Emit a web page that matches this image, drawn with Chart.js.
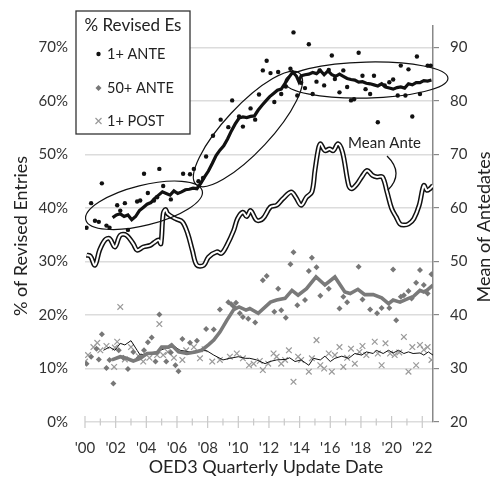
<!DOCTYPE html>
<html><head><meta charset="utf-8">
<script src="https://cdn.jsdelivr.net/npm/chart.js@4.4.1/dist/chart.umd.min.js"></script>
<style>html,body{margin:0;padding:0;background:#fff}#wrap{position:relative;width:491px;height:487px}</style>
</head><body><div id="wrap"><canvas id="c"></canvas></div>
<script>
// ---------- DATA ----------
const leftTicks = [0,10,20,30,40,50,60,70];
const rightTicks = [20,30,40,50,60,70,80,90];
const yearTicks = [2000,2002,2004,2006,2008,2010,2012,2014,2016,2018,2020,2022];
const yearLabels = ["'00","'02","'04","'06","'08","'10","'12","'14","'16","'18","'20","'22"];

const seriesNames = ['1+ ANTE','50+ ANTE','1+ POST'];

// 1+ ANTE (% of revised entries)
const ante1X = [2000.1,2000.4,2000.65,2000.9,2001.1,2001.4,2001.6,2002.1,2002.3,2002.6,2002.8,2003.4,2003.6,2003.85,2004.1,2004.5,2004.7,2004.85,2005.1,2005.6,2006.4,2006.85,2007.1,2007.4,2007.7,2007.9,2008.35,2008.85,2009.35,2009.6,2010.05,2010.3,2010.8,2011.1,2011.35,2011.6,2011.85,2012.1,2012.35,2012.6,2012.8,2013.1,2013.4,2013.6,2013.85,2014.1,2014.35,2014.6,2014.85,2015.1,2015.3,2015.6,2015.9,2016.1,2016.3,2016.6,2016.85,2017.1,2017.35,2017.55,2017.85,2018.1,2018.3,2018.6,2018.85,2019.1,2019.55,2019.85,2020.1,2020.4,2020.6,2020.9,2021.1,2021.35,2021.65,2021.85,2022.35,2022.55];
const ante1Y = [36.3,40.9,37.6,37.4,44.6,36.7,36.3,40.5,39.5,40.9,35.9,41.2,41.4,46.4,42.8,41.4,42.0,47.3,44.1,41.6,46.4,46.3,47.3,45.0,45.6,49.6,53.5,56.5,55.1,60.1,57.1,55.2,58.6,56.5,61.2,65.7,67.5,65.2,59.8,65.4,61.3,62.7,66.0,72.8,61.0,63.4,62.4,70.6,61.3,63.6,65.7,62.9,65.8,68.5,64.1,61.6,65.7,62.6,60.1,60.3,69.0,64.7,62.2,61.3,64.7,56.0,62.9,63.5,64.0,61.0,66.6,61.0,65.9,57.1,68.3,61.3,66.6,66.6];

// 1+ ANTE moving average
const ante1MaX = [2001.8,2002.05,2002.3,2002.55,2002.8,2003.05,2003.3,2003.55,2003.8,2004.05,2004.3,2004.55,2004.8,2005.05,2005.3,2005.55,2005.8,2006.05,2006.3,2006.55,2006.8,2007.05,2007.3,2007.55,2007.8,2008.05,2008.3,2008.55,2008.8,2009.05,2009.3,2009.55,2009.8,2010.05,2010.3,2010.55,2010.8,2011.05,2011.3,2011.55,2011.8,2012.05,2012.3,2012.55,2012.8,2013.05,2013.3,2013.55,2013.8,2013.95,2014.1,2014.35,2014.6,2014.85,2015.1,2015.35,2015.6,2015.85,2016.1,2016.35,2016.6,2016.85,2017.1,2017.35,2017.6,2017.85,2018.1,2018.35,2018.6,2018.85,2019.1,2019.35,2019.6,2019.85,2020.1,2020.35,2020.6,2020.85,2021.1,2021.35,2021.6,2021.85,2022.1,2022.35,2022.6];
const ante1MaY = [38.2,38.7,38.9,38.4,38.7,37.8,38.4,39.5,40.1,40.7,41.0,41.8,42.4,43.0,42.7,42.4,43.2,42.7,43.0,43.4,43.5,43.7,43.6,44.6,45.8,46.9,48.3,49.8,50.8,51.6,52.9,54.4,55.7,56.8,57.0,56.9,57.1,57.2,58.3,59.2,60.0,60.8,61.4,62.0,62.2,63.3,64.4,65.4,64.6,63.6,64.7,64.9,65.0,65.3,65.1,65.7,64.9,65.6,64.9,64.6,65.0,64.6,64.2,64.0,63.9,63.5,63.6,63.3,63.2,63.0,62.8,63.2,62.6,62.4,62.2,62.5,62.6,62.4,63.2,63.0,63.4,63.4,63.8,63.7,63.9];

// 50+ ANTE
const ante50X = [2000.1,2000.4,2000.75,2000.9,2001.1,2001.4,2001.6,2001.85,2002.2,2002.5,2002.8,2003.15,2003.5,2003.85,2004.1,2004.35,2004.6,2004.85,2005.3,2005.6,2005.9,2006.1,2006.35,2006.85,2007.3,2007.9,2008.4,2008.8,2009.35,2009.55,2009.7,2009.85,2010.1,2010.3,2010.65,2011.1,2011.6,2011.85,2012.35,2012.6,2012.8,2013.1,2013.4,2013.6,2013.85,2014.35,2014.6,2014.8,2015.1,2015.35,2015.9,2016.6,2016.85,2017.1,2017.85,2018.1,2018.6,2019.05,2019.35,2019.85,2020.1,2020.3,2020.6,2020.8,2021.1,2021.3,2021.6,2021.85,2022.1,2022.35,2022.6];
const ante50Y = [10.9,12.2,13.7,11.7,16.4,10.1,11.6,7.2,13.4,12.0,9.9,13.1,12.0,13.4,14.9,15.8,11.3,20.1,11.3,13.0,10.6,9.5,15.5,14.8,15.2,17.4,17.3,21.0,22.4,22.0,21.6,22.3,20.3,19.6,19.3,18.6,26.5,27.3,20.6,24.9,20.9,19.5,29.5,31.7,21.8,22.8,28.2,30.7,28.9,23.6,24.9,21.2,23.4,22.4,29.0,22.9,21.0,20.3,21.3,21.3,28.5,19.0,23.4,23.7,24.5,23.1,26.0,28.4,25.6,24.0,27.6];

// 50+ ANTE moving average
const ante50MaX = [2001.75,2002.3,2002.7,2003.15,2003.6,2004.05,2004.7,2005.0,2005.45,2005.65,2006.1,2006.65,2007.2,2007.6,2008.05,2008.4,2008.8,2009.25,2009.7,2010.05,2010.5,2010.75,2011.3,2012.1,2012.5,2013.05,2013.5,2013.9,2014.45,2015.07,2015.65,2016.3,2016.95,2017.3,2017.8,2018.25,2018.8,2019.35,2019.8,2020.1,2020.55,2021.1,2021.4,2021.85,2022.1,2022.3,2022.7];
const ante50MaY = [11.6,12.2,11.9,11.4,11.9,12.8,12.9,14.0,14.0,14.4,13.1,12.8,13.1,13.4,14.4,15.3,16.8,19.0,21.0,21.5,20.9,21.2,20.3,22.4,22.8,23.1,24.6,23.7,24.9,27.1,25.6,27.1,24.3,24.0,24.8,23.8,23.8,23.2,22.1,22.8,22.4,23.1,23.4,24.6,24.3,24.6,25.6];

// 1+ POST
const post1X = [2000.0,2000.2,2000.55,2000.8,2001.0,2001.4,2001.9,2001.95,2002.1,2002.3,2002.6,2003.0,2003.5,2003.8,2004.2,2004.7,2004.85,2005.1,2005.4,2005.8,2006.35,2006.6,2007.1,2007.5,2007.8,2008.3,2008.8,2009.45,2009.9,2010.3,2010.7,2011.0,2011.4,2011.6,2011.95,2012.3,2012.5,2012.8,2013.05,2013.3,2013.6,2013.9,2014.1,2014.6,2014.8,2015.1,2015.35,2015.6,2015.9,2016.1,2016.3,2016.6,2016.85,2017.1,2017.35,2017.6,2017.9,2018.1,2018.35,2018.9,2019.1,2019.35,2019.6,2019.9,2020.2,2020.5,2020.8,2021.1,2021.35,2021.6,2021.85,2022.1,2022.35,2022.6];
const post1Y = [11.3,12.5,14.0,14.8,13.4,14.2,10.3,13.9,15.0,21.5,11.7,14.0,12.3,11.3,12.0,12.5,18.3,12.5,13.1,12.0,11.6,13.4,14.0,11.9,13.6,11.3,11.6,12.2,12.8,11.9,10.6,10.9,11.4,9.7,10.9,12.8,12.2,10.9,11.6,13.4,7.5,12.2,11.6,9.4,11.9,15.3,10.6,10.0,12.8,9.4,12.5,14.0,10.3,12.0,13.7,10.9,13.1,14.2,12.5,15.0,12.8,10.6,14.7,12.8,12.5,13.0,15.9,9.4,14.0,10.6,14.4,13.5,14.0,11.6];

// 1+ POST moving average
const post1MaX = [2001.2,2001.6,2001.95,2002.3,2002.6,2003.0,2003.4,2003.6,2004.0,2004.6,2005.1,2005.5,2005.7,2006.2,2006.85,2007.5,2007.95,2008.4,2009.0,2009.45,2010.0,2010.45,2010.75,2011.2,2011.75,2012.05,2012.5,2013.1,2013.35,2013.7,2014.1,2014.6,2014.9,2015.35,2015.65,2016.0,2016.3,2016.75,2017.2,2017.6,2018.05,2018.35,2018.8,2019.0,2019.45,2019.8,2020.1,2020.45,2020.8,2021.1,2021.4,2021.85,2022.1,2022.4,2022.7];
const post1MaY = [13.4,14.0,13.4,14.7,14.4,15.2,13.4,12.5,12.8,13.1,13.6,14.0,14.4,13.4,13.1,13.4,13.3,12.5,11.6,11.9,12.2,11.9,11.9,11.6,10.9,11.3,11.6,11.7,12.0,11.3,11.6,10.6,11.9,11.6,12.3,11.3,11.9,12.3,11.9,12.8,12.5,13.1,12.8,13.4,12.8,13.4,12.9,13.4,12.8,13.1,12.8,12.9,12.5,13.1,12.5];

// Mean of antedates (right axis)
const meanAnteX = [2000.1,2000.35,2000.65,2000.95,2001.3,2001.6,2001.95,2002.3,2002.7,2003.15,2003.4,2003.8,2004.25,2004.5,2004.8,2004.95,2005.1,2005.25,2005.4,2005.9,2006.35,2006.7,2007.0,2007.3,2007.75,2008.05,2008.6,2008.9,2009.25,2009.7,2009.95,2010.3,2010.55,2010.8,2011.2,2011.6,2012.1,2012.5,2012.9,2013.45,2013.75,2014.1,2014.45,2014.8,2015.0,2015.2,2015.35,2015.65,2015.95,2016.2,2016.5,2016.8,2017.2,2017.4,2017.75,2018.05,2018.4,2018.75,2019.05,2019.4,2019.7,2020.0,2020.3,2020.55,2020.8,2021.1,2021.45,2021.8,2022.1,2022.3,2022.5,2022.7];
const meanAnteY = [51.2,51.0,49.3,52.1,54.0,54.3,52.7,54.9,54.9,53.3,52.1,52.7,53.0,53.5,54.0,53.3,58.9,59.7,58.9,58.0,57.4,55.2,52.1,49.3,49.3,50.8,51.8,51.5,53.0,55.8,58.0,59.2,58.4,59.5,57.7,58.0,60.2,60.5,61.7,63.0,62.0,60.5,62.0,63.0,67.0,70.7,72.0,70.7,71.0,70.7,72.0,70.4,64.2,63.6,64.5,65.8,67.0,66.1,65.8,65.8,63.0,59.9,58.3,57.0,56.8,57.0,58.0,60.5,64.2,63.3,63.6,64.2];

// ---------- ANNOTATIONS (data coords for anchors) ----------
const ellipses = [
  {x:2003.85, y:40.5, rx:60, ry:20, rot:-14},
  {x:2010.63, y:54.76, rx:76, ry:23, rot:-47},
  {x:2018.36, y:63.9, rx:81.5, ry:18, rot:-1.3}
];
const meanLabel = {x:2017.16, y:52.05, text:'Mean Ante'};
const meanArc = {x1:2019.7, y1:49.7, cx:2020.85, cy:46.5, x2:2019.75, y2:43.3};

// ---------- RENDER ----------
const FONT = 'Lato, "Open Sans", sans-serif';
const zip = (xs, ys) => xs.map((x,i) => ({x, y: ys[i]}));

const decor = {
  id: 'decor',
  beforeDatasetsDraw(chart){
    const {ctx, scales:{x, y}} = chart;
    const py = y.getPixelForValue(0);
    ctx.save();
    ctx.strokeStyle = '#c9c9c9'; ctx.lineWidth = 1.2;
    x.ticks.forEach(t => {
      const px = x.getPixelForValue(t.value);
      const h = yearTicks.includes(t.value) ? 6 : 3.5;
      ctx.beginPath(); ctx.moveTo(px, py - h); ctx.lineTo(px, py + h); ctx.stroke();
    });
    ctx.restore();
  },
  afterDraw(chart){
    const {ctx, scales:{x, y}} = chart;
    const P = (a, b) => [x.getPixelForValue(a), y.getPixelForValue(b)];
    ctx.save();
    // ellipses
    ctx.strokeStyle = '#111'; ctx.lineWidth = 1.2;
    ellipses.forEach(e => {
      const [cx, cy] = P(e.x, e.y);
      ctx.beginPath(); ctx.ellipse(cx, cy, e.rx, e.ry, e.rot*Math.PI/180, 0, 2*Math.PI); ctx.stroke();
    });
    // Mean Ante label + arc
    ctx.fillStyle = '#222'; ctx.font = '15px ' + FONT; ctx.textAlign = 'left'; ctx.textBaseline = 'middle';
    const [lx, ly] = P(meanLabel.x, meanLabel.y);
    ctx.fillText(meanLabel.text, lx, ly);
    const [a1x, a1y] = P(meanArc.x1, meanArc.y1), [acx, acy] = P(meanArc.cx, meanArc.cy), [a2x, a2y] = P(meanArc.x2, meanArc.y2);
    ctx.beginPath(); ctx.moveTo(a1x, a1y); ctx.quadraticCurveTo(acx, acy, a2x, a2y); ctx.lineWidth = 1.3; ctx.stroke();
    // legend box
    ctx.fillStyle = '#fff'; ctx.fillRect(76, 11, 114, 123);
    ctx.strokeStyle = '#333'; ctx.lineWidth = 1.3; ctx.strokeRect(76, 11, 114, 123);
    ctx.fillStyle = '#222'; ctx.textAlign = 'center'; ctx.font = '17px ' + FONT;
    ctx.fillText('% Revised Es', 133, 26);
    ctx.textAlign = 'left'; ctx.font = '14.5px ' + FONT;
    const rows = [54, 88, 121];
    ctx.fillText(seriesNames[0], 107, rows[0]);
    ctx.fillText(seriesNames[1], 107, rows[1]);
    ctx.fillText(seriesNames[2], 107, rows[2]);
    ctx.fillStyle = '#111'; ctx.beginPath(); ctx.arc(98.5, rows[0], 2.2, 0, 2*Math.PI); ctx.fill();
    ctx.fillStyle = '#777'; ctx.beginPath(); ctx.moveTo(98.5, rows[1]-3); ctx.lineTo(101.5, rows[1]); ctx.lineTo(98.5, rows[1]+3); ctx.lineTo(95.5, rows[1]); ctx.closePath(); ctx.fill();
    ctx.strokeStyle = '#999'; ctx.lineWidth = 1.2; ctx.beginPath();
    ctx.moveTo(95.5, rows[2]-3); ctx.lineTo(101.5, rows[2]+3); ctx.moveTo(101.5, rows[2]-3); ctx.lineTo(95.5, rows[2]+3); ctx.stroke();
    // axis titles
    ctx.fillStyle = '#222'; ctx.font = '18px ' + FONT; ctx.textAlign = 'center'; ctx.textBaseline = 'middle';
    ctx.fillText('OED3 Quarterly Update Date', 266, 467);
    ctx.save(); ctx.translate(21, 236); ctx.rotate(-Math.PI/2); ctx.fillText('% of Revised Entries', 0, 0); ctx.restore();
    ctx.save(); ctx.translate(484, 227); ctx.rotate(-Math.PI/2); ctx.fillText('Mean of Antedates', 0, 0); ctx.restore();
    ctx.restore();
  }
};

new Chart(document.getElementById('c'), {
  type: 'scatter',
  data: { datasets: [
    {label:'1+ ANTE MA', data: zip(ante1MaX, ante1MaY), showLine:true, borderColor:'#111', borderWidth:3.2, pointRadius:0, yAxisID:'y'},
    {label:'50+ ANTE MA', data: zip(ante50MaX, ante50MaY), showLine:true, borderColor:'#7a7a7a', borderWidth:3.6, pointRadius:0, yAxisID:'y'},
    {label:'1+ POST MA', data: zip(post1MaX, post1MaY), showLine:true, borderColor:'#111', borderWidth:1, pointRadius:0, yAxisID:'y'},
    {label:seriesNames[0], data: zip(ante1X, ante1Y), pointStyle:'circle', pointRadius:2.2, backgroundColor:'#111', borderWidth:0, yAxisID:'y'},
    {label:seriesNames[1], data: zip(ante50X, ante50Y), pointStyle:'rectRot', pointRadius:3, backgroundColor:'#777', borderWidth:0, yAxisID:'y'},
    {label:seriesNames[2], data: zip(post1X, post1Y), pointStyle:'crossRot', pointRadius:4, borderColor:'#9a9a9a', borderWidth:1.2, yAxisID:'y'},
    {label:'Mean Ante inner', data: zip(meanAnteX, meanAnteY), showLine:true, borderColor:'#fff', borderWidth:2, pointRadius:0, tension:0.35, yAxisID:'y2', borderJoinStyle:'round'},
    {label:'Mean Ante', data: zip(meanAnteX, meanAnteY), showLine:true, borderColor:'#111', borderWidth:5, pointRadius:0, tension:0.35, yAxisID:'y2', borderJoinStyle:'round'}
  ]},
  options: {
    responsive:true, maintainAspectRatio:false, animation:false, devicePixelRatio:1,
    layout:{padding:{top:26, left:0, right:0, bottom:0}},
    plugins:{legend:{display:false}, tooltip:{enabled:false}},
    scales:{
      x:{type:'linear', position:'bottom', min:2000, max:2022.7,
        afterBuildTicks: s => { s.ticks = s.ticks.filter(t => Number.isInteger(t.value)); },
        afterFit: s => { s.height = 65; },
        ticks:{stepSize:1, includeBounds:false, autoSkip:false, maxRotation:0, padding:17, color:'#333', font:{family:FONT, size:15},
          callback: v => { const i = yearTicks.indexOf(v); return i >= 0 ? yearLabels[i] : ''; }},
        grid:{display:false, drawTicks:false}, border:{display:false}},
      y:{position:'left', min:0, max:74,
        afterBuildTicks: s => { s.ticks = leftTicks.map(v => ({value:v})); },
        afterFit: s => { s.width = 85; },
        ticks:{padding:17, color:'#333', font:{family:FONT, size:15}, callback: v => v + '%'},
        grid:{color:'#dcdcdc', lineWidth:1.5, drawTicks:false}, border:{display:false}},
      y2:{position:'right', min:20, max:94,
        afterBuildTicks: s => { s.ticks = rightTicks.map(v => ({value:v})); },
        afterFit: s => { s.width = 58; },
        ticks:{padding:11, color:'#333', font:{family:FONT, size:15}},
        grid:{drawOnChartArea:false, drawTicks:true, tickLength:6, color:'#888', lineWidth:1.2},
        border:{display:true, color:'#888', width:1.5}}
    }
  },
  plugins:[decor]
});
</script></body></html>
